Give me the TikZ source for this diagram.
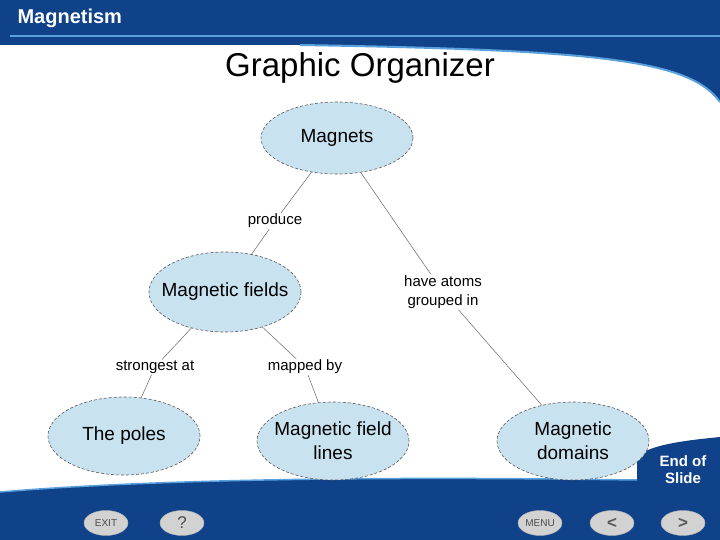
\documentclass[tikz,border=0pt]{standalone}
\usepackage{fontspec}
\setmainfont{Liberation Sans}
\usetikzlibrary{shapes.geometric}
\definecolor{navy}{RGB}{16,66,138}
\definecolor{lineblue}{RGB}{90,160,220}
\definecolor{bub}{RGB}{200,226,240}
\definecolor{btn}{RGB}{210,210,210}
\begin{document}
\begin{tikzpicture}[x=1pt,y=-1pt,
  bubble/.style={ellipse,draw=gray!70!black,densely dashed,line width=0.6pt,fill=bub,minimum width=152pt,minimum height=78pt,inner xsep=-12pt,inner ysep=0pt,align=center,font=\fontsize{19}{24}\selectfont},
  lab/.style={font=\fontsize{15}{19}\selectfont,align=center,fill=white,inner sep=1pt},
  link/.style={draw=gray!80!black,line width=0.5pt},
  button/.style={ellipse,fill=btn,draw=gray!60,minimum width=44pt,minimum height=25pt,inner sep=0pt,font=\fontsize{10}{10}\selectfont\color{gray!60!black}}]
\useasboundingbox (0,0) rectangle (720,540);
\fill[white] (0,0) rectangle (720,540);
% header
\fill[navy] (0,0) -- (720,0) -- (720,102) .. controls (690,60) and (600,50) .. (300,45) -- (0,45) -- cycle;
\draw[lineblue,line width=1.5pt] (10,36) -- (720,36);
\draw[lineblue,line width=2pt] (300,45) .. controls (600,50) and (690,60) .. (720,102);
\node[anchor=west,white,font=\fontsize{20}{24}\selectfont\bfseries] (hd) at (14,18) {Magnetism};
\node[font=\fontsize{33}{38}\selectfont] (title) at (360,68) {Graphic Organizer};
% footer
\fill[navy] (0,492) .. controls (200,475) and (500,478) .. (637,480) -- (637,460) .. controls (640,445) and (690,440) .. (720,437) -- (720,540) -- (0,540) -- cycle;
\draw[lineblue,line width=1.5pt] (0,492) .. controls (200,475) and (500,478) .. (637,480);
\node[white,font=\fontsize{15}{17}\selectfont\bfseries,align=center] (eos) at (683,470) {End of\\Slide};
\node[button] (exit) at (106,523) {EXIT};
\node[button,font=\fontsize{17}{17}\selectfont\color{gray!60!black}] (help) at (182,523) {?};
\node[button] (menu) at (540,523) {MENU};
\node[button,font=\fontsize{17}{17}\selectfont\bfseries\color{gray!70!black}] (prev) at (612,523) {<};
\node[button,font=\fontsize{17}{17}\selectfont\bfseries\color{gray!70!black}] (next) at (683,523) {>};
% nodes
\node[bubble,minimum height=72pt] (magnets) at (337,138) {Magnets};
\node[bubble,minimum height=80pt] (fields) at (225,292) {Magnetic fields};
\node[bubble] (poles) at (124,436) {The poles};
\node[bubble] (lines) at (333,441) {Magnetic field\\lines};
\node[bubble] (domains) at (573,441) {Magnetic\\domains};
\node[lab] (produce) at (275,221) {produce};
\node[lab] (atoms) at (443,292) {have atoms\\grouped in};
\node[lab] (strong) at (155,367) {strongest at};
\node[lab] (mapped) at (305,367) {mapped by};
\draw[link] (magnets) -- (produce) -- (fields);
\draw[link] (magnets) -- (atoms) -- (domains);
\draw[link] (fields) -- (strong) -- (poles);
\draw[link] (fields) -- (mapped) -- (lines);
\end{tikzpicture}
\end{document}
